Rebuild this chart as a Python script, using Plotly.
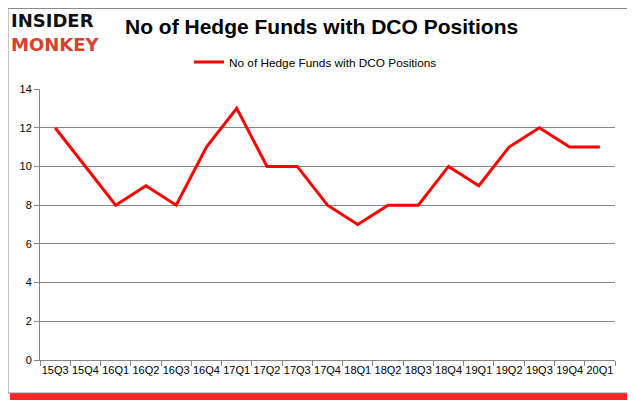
import plotly.graph_objects as go

quarters = ["15Q3", "15Q4", "16Q1", "16Q2", "16Q3", "16Q4", "17Q1", "17Q2", "17Q3", "17Q4",
            "18Q1", "18Q2", "18Q3", "18Q4", "19Q1", "19Q2", "19Q3", "19Q4", "20Q1"]
funds = [12, 10, 8, 9, 8, 11, 13, 10, 10, 8, 7, 8, 8, 10, 9, 11, 12, 11, 11]
series_name = "No of Hedge Funds with DCO Positions"
y_ticks = [0, 2, 4, 6, 8, 10, 12, 14]

OFF = 8  # default page body margin
W, H = 635 - OFF, 405 - OFF
# plot area in screen px
SL, SR, ST, SB = 40, 615, 89, 360
L, R, T, B = SL - OFF, SR - OFF, ST - OFF, SB - OFF
pw, ph = R - L, B - T

def px_x(sx):
    return (sx - OFF - L) / pw

def px_y(sy):
    return (B - (sy - OFF)) / ph

fig = go.Figure()
fig.add_trace(go.Scatter(
    x=quarters, y=funds, mode="lines", name=series_name,
    line=dict(color="#ff0000", width=3),
))

shapes = [
    dict(type="rect", xref="paper", yref="paper",
         x0=px_x(10), x1=px_x(632), y0=px_y(400), y1=px_y(393),
         fillcolor="rgba(255,0,0,0.85)", line=dict(width=0), layer="below"),
    dict(type="rect", xref="paper", yref="paper",
         x0=px_x(628), x1=px_x(632), y0=px_y(396), y1=px_y(8),
         fillcolor="rgba(255,120,120,0.35)", line=dict(width=0), layer="below"),
    dict(type="rect", xref="paper", yref="paper",
         x0=px_x(8), x1=px_x(629), y0=px_y(393), y1=px_y(8.5),
         fillcolor="rgba(0,0,0,0)", line=dict(color="#8a8a8a", width=1), layer="below"),
]

annotations = [
    dict(text="<b>No of Hedge Funds with DCO Positions</b>", xref="paper", yref="paper",
         x=px_x(123), y=px_y(26), xanchor="left", yanchor="middle", showarrow=False,
         font=dict(family="Liberation Sans, Arial, sans-serif", size=21, color="#000000")),
    dict(text="<b>INSIDER</b>", xref="paper", yref="paper",
         x=px_x(9), y=px_y(8.5), xanchor="left", yanchor="top", showarrow=False,
         font=dict(family="DejaVu Sans, sans-serif", size=18, color="#111111")),
    dict(text="<b>MONKEY</b>", xref="paper", yref="paper",
         x=px_x(9), y=px_y(32), xanchor="left", yanchor="top", showarrow=False,
         font=dict(family="DejaVu Sans, sans-serif", size=18, color="#d9412b")),
]

fig.update_layout(
    width=W, height=H,
    margin=dict(l=L, r=W - R, t=T, b=H - B, pad=0, autoexpand=False),
    paper_bgcolor="white", plot_bgcolor="white",
    showlegend=True,
    legend=dict(orientation="h", x=px_x(189), y=px_y(62), xanchor="left", yanchor="middle",
                font=dict(family="Liberation Sans, Arial, sans-serif", size=11.8, color="#000000"),
                bgcolor="rgba(0,0,0,0)", itemwidth=30),
    shapes=shapes,
    annotations=annotations,
    xaxis=dict(type="category", showgrid=False, showline=True, linecolor="#868686", linewidth=1,
               ticks="outside", ticklen=5, tickcolor="#868686", tickson="boundaries",
               tickfont=dict(family="Liberation Sans, Arial, sans-serif", size=11, color="#000000"),
               range=[-0.5, len(quarters) - 0.5], tickangle=0, fixedrange=True),
    yaxis=dict(range=[0, 14], tickvals=y_ticks, showgrid=True, gridcolor="#868686", gridwidth=1,
               showline=True, linecolor="#868686", linewidth=1, ticks="outside", ticklen=5,
               tickcolor="#868686", zeroline=False,
               tickfont=dict(family="Liberation Sans, Arial, sans-serif", size=11, color="#000000")),
)

fig.write_html("out.html")
